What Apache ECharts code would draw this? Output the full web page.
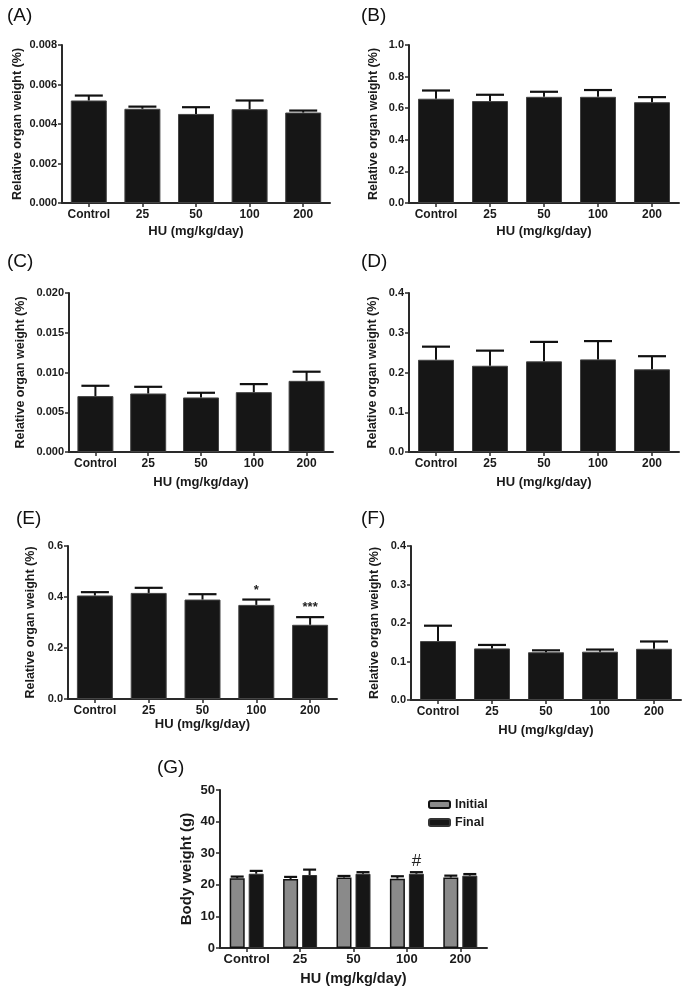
<!DOCTYPE html>
<html><head><meta charset="utf-8">
<script src="https://cdn.jsdelivr.net/npm/echarts/dist/echarts.min.js"></script>
<style>html,body{margin:0;padding:0;background:#fff}#c{width:692px;height:995px}</style>
</head><body><div id="c"></div>
<script>
// ---------- DATA ----------
const categories = ['Control', '25', '50', '100', '200'];

const A_mean = [0.00519, 0.00477, 0.00451, 0.00475, 0.00458];
const A_sem  = [0.00025, 0.00011, 0.00034, 0.00044, 0.00010];
const A_ticks = ['0.000', '0.002', '0.004', '0.006', '0.008'];

const B_mean = [0.660, 0.645, 0.672, 0.672, 0.638];
const B_sem  = [0.052, 0.040, 0.032, 0.043, 0.032];
const B_ticks = ['0.0', '0.2', '0.4', '0.6', '0.8', '1.0'];

const C_mean = [0.00703, 0.00736, 0.00686, 0.00753, 0.00895];
const C_sem  = [0.00130, 0.00084, 0.00059, 0.00101, 0.00115];
const C_ticks = ['0.000', '0.005', '0.010', '0.015', '0.020'];

const D_mean = [0.232, 0.217, 0.228, 0.233, 0.208];
const D_sem  = [0.033, 0.038, 0.049, 0.046, 0.033];
const D_ticks = ['0.0', '0.1', '0.2', '0.3', '0.4'];

const E_mean = [0.406, 0.416, 0.390, 0.369, 0.291];
const E_sem  = [0.013, 0.020, 0.021, 0.021, 0.030];
const E_sig  = ['', '', '', '*', '***'];
const E_ticks = ['0.0', '0.2', '0.4', '0.6'];

const F_mean = [0.153, 0.134, 0.124, 0.1255, 0.133];
const F_sem  = [0.040, 0.009, 0.005, 0.0055, 0.019];
const F_ticks = ['0.0', '0.1', '0.2', '0.3', '0.4'];

const G_initial_mean = [22.06, 21.85, 22.30, 21.95, 22.30];
const G_initial_sem  = [0.54, 0.65, 0.50, 0.75, 0.60];
const G_final_mean   = [23.50, 23.10, 23.50, 23.50, 22.90];
const G_final_sem    = [0.90, 1.70, 0.50, 0.50, 0.50];
const G_final_sig    = ['', '', '', '#', ''];
const G_ticks = ['0', '10', '20', '30', '40', '50'];
const G_series_names = ['Initial', 'Final'];

const organTitle = 'Relative organ weight (%)';
const bodyTitle = 'Body weight (g)';
const xTitle = 'HU (mg/kg/day)';

// ---------- LAYOUT / STYLE ----------
const FONT = '"Liberation Sans", Arial, sans-serif';
const INK = '#161616';
const AXIS = '#2a2a2a';

const panels = [
  {label:'(A)', lx:7,   ly:6,   left:62,  top:45,  width:268, height:158, yGap:38, xGap:22, mean:A_mean, sem:A_sem, ticks:A_ticks},
  {label:'(B)', lx:361, ly:6,   left:409, top:45,  width:270, height:158, yGap:29, xGap:22, mean:B_mean, sem:B_sem, ticks:B_ticks},
  {label:'(C)', lx:7,   ly:252, left:69,  top:293, width:264, height:159, yGap:42, xGap:24, mean:C_mean, sem:C_sem, ticks:C_ticks},
  {label:'(D)', lx:361, ly:252, left:409, top:293, width:270, height:159, yGap:30, xGap:24, mean:D_mean, sem:D_sem, ticks:D_ticks},
  {label:'(E)', lx:16,  ly:509, left:68,  top:546, width:269, height:153, yGap:31, xGap:17, mean:E_mean, sem:E_sem, ticks:E_ticks, sig:E_sig},
  {label:'(F)', lx:361, ly:509, left:411, top:546, width:270, height:154, yGap:30, xGap:24, mean:F_mean, sem:F_sem, ticks:F_ticks}
];
const gPanel = {label:'(G)', lx:157, ly:758, left:220, top:790, width:267, height:158, yGap:26, xGap:23, ticks:G_ticks};

function errRender(capHalf, shift) {
  return function (params, api) {
    const x = api.value(0);
    const p0 = api.coord([x, api.value(1)]);
    const p1 = api.coord([x, api.value(2)]);
    const cx = p0[0] + shift;
    return {type:'group', children:[
      {type:'line', shape:{x1:cx, y1:p0[1], x2:cx, y2:p1[1]}, style:{stroke:'#111', lineWidth:2}},
      {type:'line', shape:{x1:cx - capHalf, y1:p1[1], x2:cx + capHalf, y2:p1[1]}, style:{stroke:'#111', lineWidth:2.2}}
    ]};
  };
}
function sigRender(arr, shift, size, weight, lift) {
  return function (params, api) {
    const p = api.coord([api.value(0), api.value(1)]);
    return {type:'text', style:{text:arr[params.dataIndex], x:p[0] + shift, y:p[1] - lift,
      align:'center', verticalAlign:'bottom', fontSize:size, fontWeight:weight, fontFamily:FONT, fill:'#222'}};
  };
}

function yAxisFor(i, p, name, fs, nameFs) {
  const vals = p.ticks.map(parseFloat);
  const dec = (p.ticks[0].split('.')[1] || '').length;
  return {
    type:'value', gridIndex:i, min:vals[0], max:vals[vals.length - 1], interval:vals[1] - vals[0],
    name:name, nameLocation:'middle', nameRotate:90, nameGap:p.yGap,
    nameTextStyle:{fontSize:nameFs, fontWeight:'bold', color:'#1a1a1a', fontFamily:FONT},
    axisLine:{show:true, lineStyle:{color:AXIS, width:2}},
    axisTick:{show:true, length:4, lineStyle:{color:AXIS, width:1.5}},
    splitLine:{show:false},
    axisLabel:{margin:5, fontSize:fs, fontWeight:'bold', color:'#1a1a1a', fontFamily:FONT,
      formatter:v => v.toFixed(dec)}
  };
}
function xAxisFor(i, p, fs, nameFs, margin) {
  return {
    type:'category', gridIndex:i, data:categories,
    name:xTitle, nameLocation:'middle', nameGap:p.xGap,
    nameTextStyle:{fontSize:nameFs, fontWeight:'bold', color:'#1a1a1a', fontFamily:FONT},
    axisLine:{show:true, lineStyle:{color:AXIS, width:2}},
    axisTick:{show:true, alignWithLabel:true, length:4, lineStyle:{color:AXIS, width:1.5}},
    axisLabel:{margin:margin, fontSize:fs, fontWeight:'bold', color:'#1a1a1a', fontFamily:FONT, interval:0}
  };
}

const grid = [], xAxis = [], yAxis = [], series = [], title = [];
const labelStyle = {fontSize:19, fontWeight:'normal', color:'#111', fontFamily:FONT};
panels.forEach((p, i) => {
  grid.push({left:p.left, top:p.top, width:p.width, height:p.height});
  xAxis.push(xAxisFor(i, p, 12, 13, 6));
  yAxis.push(yAxisFor(i, p, organTitle, 11, 12.5));
  title.push({text:p.label, left:p.lx, top:p.ly, padding:0, textStyle:labelStyle});
  series.push({type:'bar', xAxisIndex:i, yAxisIndex:i, data:p.mean, barWidth:36, silent:true,
    itemStyle:{color:INK, borderColor:'#444', borderWidth:1}});
  series.push({type:'custom', xAxisIndex:i, yAxisIndex:i, silent:true, z:3,
    data:p.mean.map((m, j) => [j, m, m + p.sem[j]]), encode:{x:0, y:[1, 2]},
    renderItem:errRender(14, 0)});
  if (p.sig) {
    series.push({type:'custom', xAxisIndex:i, yAxisIndex:i, silent:true, z:4,
      data:p.mean.map((m, j) => [j, m + p.sem[j]]), encode:{x:0, y:1},
      renderItem:sigRender(p.sig, 0, 13, 'bold', 3)});
  }
});

// panel G
const gi = panels.length;
const BW = 15, GAP = 4, SHIFT = (BW + GAP) / 2;
grid.push({left:gPanel.left, top:gPanel.top, width:gPanel.width, height:gPanel.height});
xAxis.push(xAxisFor(gi, gPanel, 13, 14.5, 5));
yAxis.push(yAxisFor(gi, gPanel, bodyTitle, 13, 15));
title.push({text:gPanel.label, left:gPanel.lx, top:gPanel.ly, padding:0, textStyle:labelStyle});
series.push({name:G_series_names[0], type:'bar', xAxisIndex:gi, yAxisIndex:gi, data:G_initial_mean,
  barWidth:BW, barGap:(GAP / BW * 100) + '%', silent:true,
  itemStyle:{color:'#8a8a8a', borderColor:'#111', borderWidth:1.5}});
series.push({name:G_series_names[1], type:'bar', xAxisIndex:gi, yAxisIndex:gi, data:G_final_mean,
  barWidth:BW, silent:true, itemStyle:{color:INK, borderColor:'#333', borderWidth:1}});
series.push({type:'custom', xAxisIndex:gi, yAxisIndex:gi, silent:true, z:3,
  data:G_initial_mean.map((m, j) => [j, m, m + G_initial_sem[j]]), encode:{x:0, y:[1, 2]},
  renderItem:errRender(6.5, -SHIFT)});
series.push({type:'custom', xAxisIndex:gi, yAxisIndex:gi, silent:true, z:3,
  data:G_final_mean.map((m, j) => [j, m, m + G_final_sem[j]]), encode:{x:0, y:[1, 2]},
  renderItem:errRender(6.5, SHIFT)});
series.push({type:'custom', xAxisIndex:gi, yAxisIndex:gi, silent:true, z:4,
  data:G_final_mean.map((m, j) => [j, m + G_final_sem[j]]), encode:{x:0, y:1},
  renderItem:sigRender(G_final_sig, SHIFT, 17, 'normal', 2)});

const chart = echarts.init(document.getElementById('c'), null, {renderer:'canvas'});
chart.setOption({
  backgroundColor:'#fff',
  animation:false,
  textStyle:{fontFamily:FONT},
  title:title,
  legend:{data:G_series_names, orient:'vertical', left:423, top:793, itemWidth:21, itemHeight:7, itemGap:5,
    textStyle:{fontSize:12.5, fontWeight:'bold', color:'#1a1a1a', fontFamily:FONT}, selectedMode:false},
  grid:grid, xAxis:xAxis, yAxis:yAxis, series:series
});
</script>
</body></html>
